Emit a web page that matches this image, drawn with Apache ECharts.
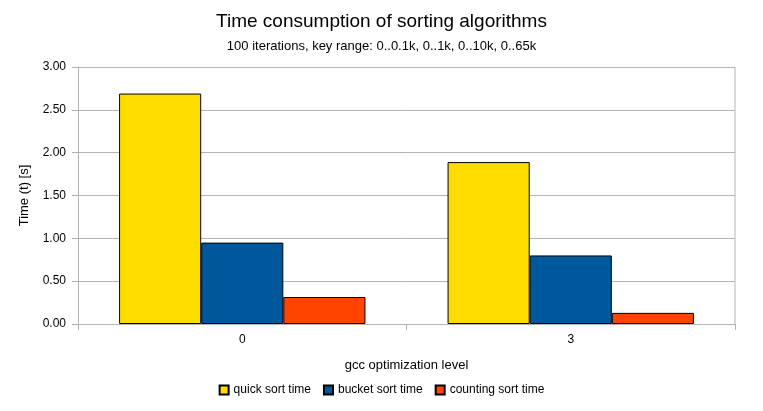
<!DOCTYPE html>
<html><head><meta charset="utf-8">
<script src="https://cdn.jsdelivr.net/npm/echarts@6/dist/echarts.min.js"></script>
<style>html,body{margin:0;padding:0;background:#fff}#c{width:763px;height:411px}</style>
</head><body><div id="c"></div>
<script>
const categories = ['0', '3'];
const quickSort = [2.69, 1.89];
const bucketSort = [0.95, 0.80];
const countingSort = [0.315, 0.13];

const font = 'Liberation Sans, Arial, sans-serif';
const chart = echarts.init(document.getElementById('c'));
const barStyle = c => ({ color: c, borderColor: '#000', borderWidth: 1 });
chart.setOption({
  animation: false,
  textStyle: { fontFamily: font, color: '#000' },
  title: {
    text: 'Time consumption of sorting algorithms',
    subtext: '100 iterations, key range: 0..0.1k, 0..1k, 0..10k, 0..65k',
    left: 'center', top: 7, itemGap: 9,
    textStyle: { fontFamily: font, fontSize: 19, fontWeight: 'normal', color: '#000' },
    subtextStyle: { fontFamily: font, fontSize: 13, color: '#000' }
  },
  legend: {
    bottom: 10, left: 'center', itemWidth: 9, itemHeight: 9, itemGap: 12,
    icon: 'rect',
    textStyle: { fontFamily: font, fontSize: 12, color: '#000' },
    data: ['quick sort time', 'bucket sort time', 'counting sort time']
  },
  grid: { left: 78, right: 28, top: 67, bottom: 87 },
  xAxis: {
    type: 'category', data: categories,
    name: 'gcc optimization level', nameLocation: 'middle', nameGap: 35,
    nameTextStyle: { fontFamily: font, fontSize: 13, color: '#000' },
    axisLine: { show: true, lineStyle: { color: '#b3b3b3' } },
    axisTick: { show: true, length: 6, lineStyle: { color: '#b3b3b3' } },
    axisLabel: { fontFamily: font, fontSize: 12, color: '#000', margin: 10 },
    splitLine: { show: false }
  },
  yAxis: {
    type: 'value', min: 0, max: 3, interval: 0.5,
    name: 'Time (t) [s]', nameLocation: 'middle', nameGap: 47,
    nameTextStyle: { fontFamily: font, fontSize: 13, color: '#000' },
    axisLine: { show: true, lineStyle: { color: '#b3b3b3' } },
    axisTick: { show: true, length: 6, lineStyle: { color: '#b3b3b3' } },
    axisLabel: { fontFamily: font, fontSize: 12, color: '#000', margin: 12,
      formatter: v => v.toFixed(2) },
    splitLine: { show: true, lineStyle: { color: '#b3b3b3' } }
  },
  series: [
    { name: 'quick sort time', type: 'bar', data: quickSort, barGap: '0%', barCategoryGap: '25%', itemStyle: barStyle('#FFDC00') },
    { name: 'bucket sort time', type: 'bar', data: bucketSort, itemStyle: barStyle('#00589C') },
    { name: 'counting sort time', type: 'bar', data: countingSort, itemStyle: barStyle('#FF4400') }
  ],
  graphic: [{ type: 'line', shape: { x1: 735, y1: 67, x2: 735, y2: 324 }, style: { stroke: '#b3b3b3', lineWidth: 1 } }]
});
</script></body></html>
